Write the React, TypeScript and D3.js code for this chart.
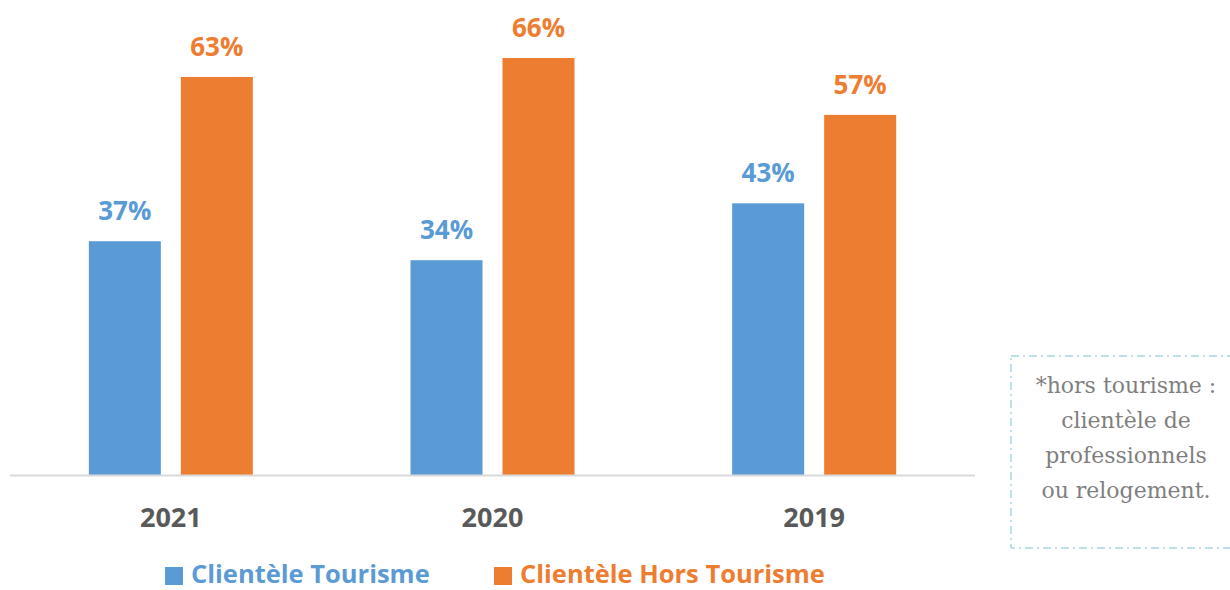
import React, { useEffect, useRef } from 'react';
import * as d3 from 'd3';

const years = ['2021', '2020', '2019'];
const tourisme = [37, 34, 43];
const horsTourisme = [63, 66, 57];
const seriesNames = ['Clientèle Tourisme', 'Clientèle Hors Tourisme'];
const noteLines = ['*hors tourisme :', 'clientèle de', 'professionnels', 'ou relogement.'];

const App = () => {
  const ref = useRef<SVGSVGElement | null>(null);

  useEffect(() => {
    const svg = d3.select(ref.current);
    svg.selectAll('*').remove();

    const colors = ['#5B9BD5', '#ED7D31'];
    const baseline = 475;

    const x = d3.scaleBand().domain(years).range([10, 975]);
    // two bars of 72px with a 20px gap, centred in each band
    const sub = d3.scaleBand().domain(['0', '1'])
      .range([x.bandwidth() / 2 - 82, x.bandwidth() / 2 + 82])
      .paddingInner(20 / 92).paddingOuter(0);
    const y = d3.scaleLinear().domain([0, 70]).range([baseline, baseline - 70 * 6.318]);

    const data = years.map((yr, i) => ({ yr, vals: [tourisme[i], horsTourisme[i]] }));

    const groups = svg.append('g').selectAll('g.grp').data(data).join('g')
      .attr('transform', d => `translate(${x(d.yr)},0)`);

    groups.selectAll('rect').data(d => d.vals).join('rect')
      .attr('x', (_, j) => sub(String(j))!)
      .attr('width', sub.bandwidth())
      .attr('y', v => y(v))
      .attr('height', v => baseline - y(v))
      .attr('fill', (_, j) => colors[j]);

    groups.selectAll('text.val').data(d => d.vals).join('text')
      .attr('class', 'val')
      .attr('x', (_, j) => sub(String(j))! + sub.bandwidth() / 2)
      .attr('y', v => y(v) - 21)
      .attr('text-anchor', 'middle')
      .attr('font-family', 'Open Sans, sans-serif')
      .attr('font-weight', 700)
      .attr('font-size', 26)
      .attr('fill', (_, j) => colors[j])
      .text(v => `${v}%`);

    // axis line
    svg.append('line')
      .attr('x1', 10).attr('x2', 975)
      .attr('y1', baseline + 0.5).attr('y2', baseline + 0.5)
      .attr('stroke', '#D9D9D9').attr('stroke-width', 2);

    svg.selectAll('text.cat').data(years).join('text')
      .attr('class', 'cat')
      .attr('x', d => x(d)! + x.bandwidth() / 2)
      .attr('y', 527)
      .attr('text-anchor', 'middle')
      .attr('font-family', 'Open Sans, sans-serif')
      .attr('font-weight', 700)
      .attr('font-size', 27)
      .attr('fill', '#595959')
      .text(d => d);

    // legend
    const legendX = [165, 494];
    seriesNames.forEach((name, i) => {
      svg.append('rect')
        .attr('x', legendX[i]).attr('y', 567)
        .attr('width', 18).attr('height', 18)
        .attr('fill', colors[i]);
      svg.append('text')
        .attr('x', legendX[i] + 26).attr('y', 583)
        .attr('font-family', 'Open Sans, sans-serif')
        .attr('font-weight', 700)
        .attr('font-size', 25.5)
        .attr('fill', colors[i])
        .text(name);
    });

    // note box
    svg.append('rect')
      .attr('x', 1011).attr('y', 356)
      .attr('width', 230).attr('height', 192)
      .attr('fill', 'none')
      .attr('stroke', '#A9D8E2')
      .attr('stroke-width', 1.5)
      .attr('stroke-dasharray', '8 4 2 4');

    svg.append('g').selectAll('text').data(noteLines).join('text')
      .attr('x', 1126)
      .attr('y', (_, i) => 393 + i * 35)
      .attr('text-anchor', 'middle')
      .attr('font-family', 'DejaVu Serif, serif')
      .attr('font-size', 22)
      .attr('fill', '#7F7F7F')
      .text(d => d);
  }, []);

  return (
    <svg ref={ref} width={1230} height={590}
      style={{ position: 'absolute', left: 0, top: 0, background: '#fff' }} />
  );
};

export default App;
